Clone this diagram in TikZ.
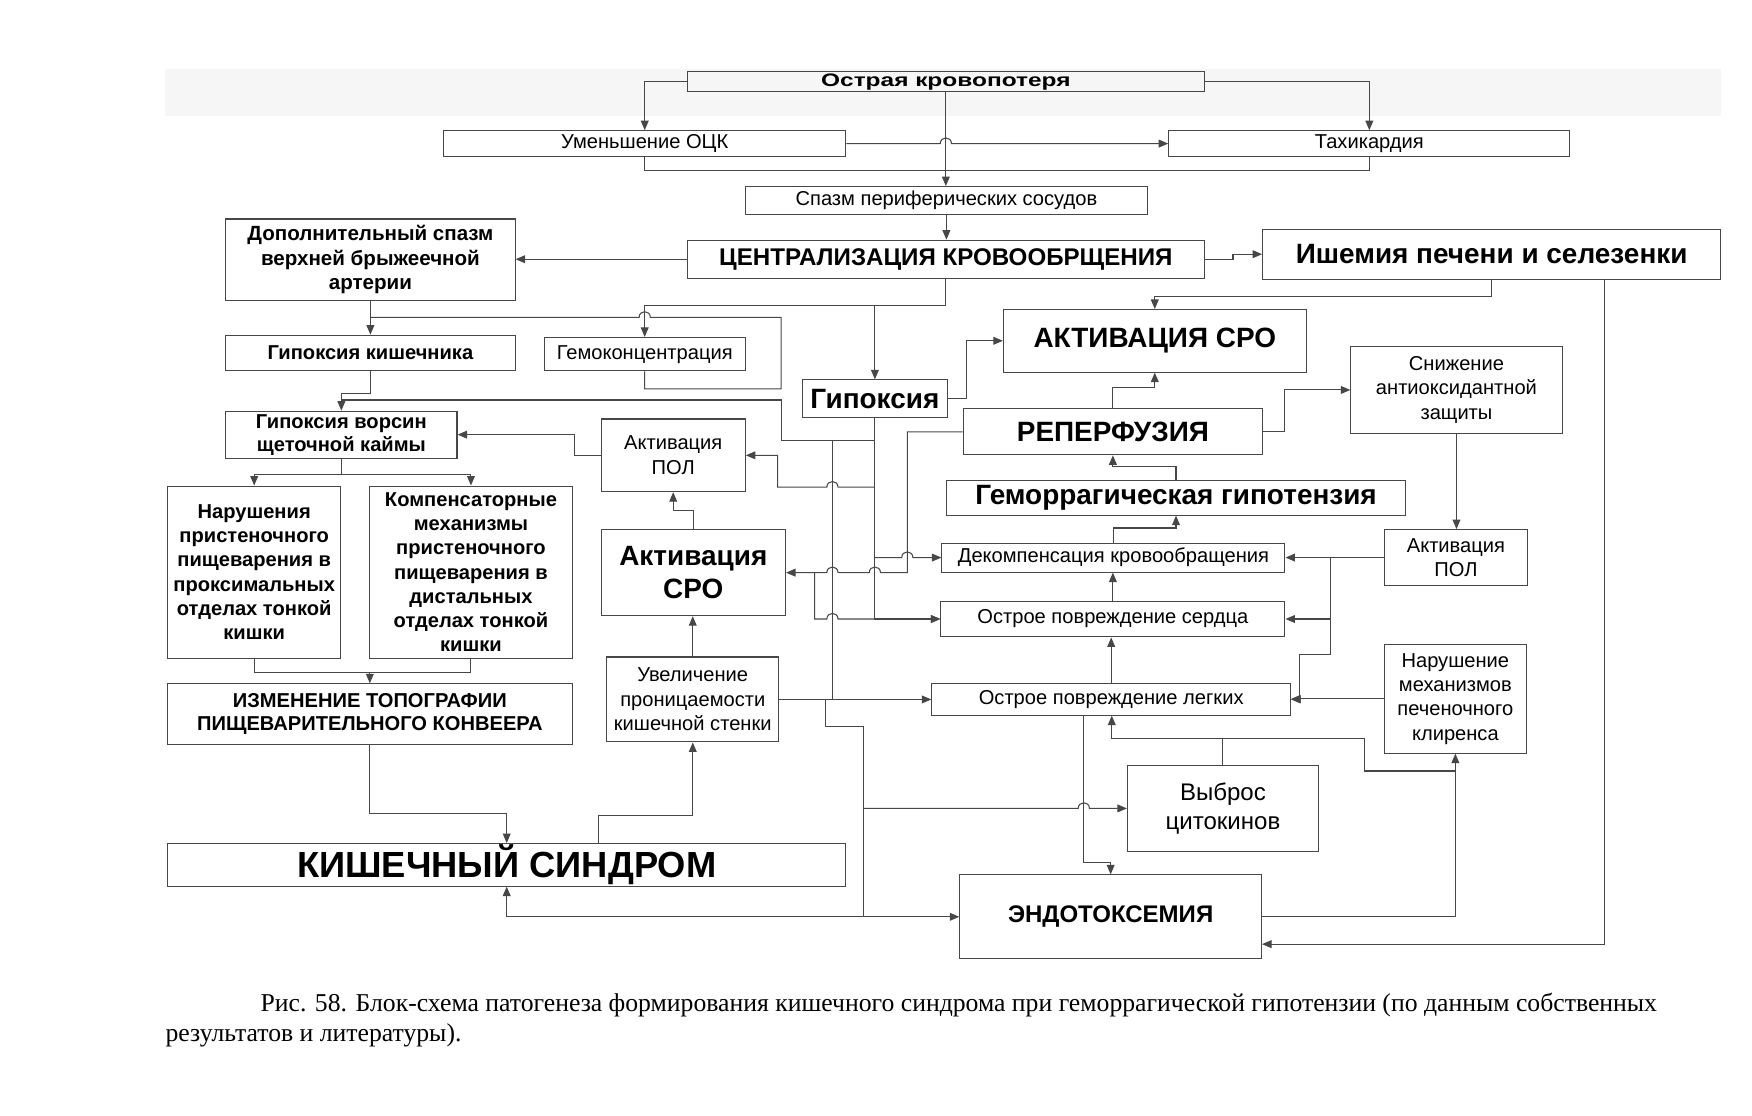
\documentclass[tikz,border=0pt]{standalone}
\usepackage{fontspec}
\setmainfont{Liberation Sans}
\newfontfamily\widefont[FakeStretch=1.35]{Liberation Sans}
\newfontfamily\capfont{Liberation Serif}
\usetikzlibrary{arrows.meta}
\newcommand{\fs}[2]{\fontsize{#1}{#2}\selectfont}
\newcommand{\mybox}[7]{\node[box, font=#6, minimum width={(#4-#2)*1pt}, minimum height={(#5-#3)*1pt}] (#1) at ({(#2+#4)/2},{(#3+#5)/2}) {#7};}
\tikzset{
  box/.style={draw=black!72, line width=0.95pt, inner sep=0pt, align=center, anchor=center},
  ln/.style={draw=black!72, line width=0.95pt},
  arr/.style={ln, -{Triangle[length=8.5pt,width=7pt]}},
  biarr/.style={ln, {Triangle[length=8.5pt,width=7pt]}-{Triangle[length=8.5pt,width=7pt]}},
  hopR/.style 2 args={insert path={-- ({#1-5},#2) .. controls ({#1-5},{#2-6.7}) and ({#1+5},{#2-6.7}) .. ({#1+5},#2)}},
  hopL/.style 2 args={insert path={-- ({#1+5},#2) .. controls ({#1+5},{#2-6.7}) and ({#1-5},{#2-6.7}) .. ({#1-5},#2)}},
}
\begin{document}
\begin{tikzpicture}[x=1pt,y=-1pt]
\useasboundingbox (0,0) rectangle (1568,998);
\fill[black!3.5] (148,62) rectangle (1540,104);

% boxes
\mybox{ost}{615}{64}{1078}{82}{\widefont\bfseries\fs{16.2}{18}}{Острая кровопотеря}
\mybox{umen}{397}{117}{757}{140}{\fs{18}{22}}{Уменьшение ОЦК}
\mybox{tah}{1046}{117}{1405}{140}{\fs{18}{22}}{Тахикардия}
\mybox{spazm}{667}{167}{1027}{192}{\fs{18}{22}}{Спазм периферических сосудов}
\mybox{centr}{615}{215}{1078}{249}{\bfseries\fs{21.6}{26}}{ЦЕНТРАЛИЗАЦИЯ КРОВООБРЩЕНИЯ}
\mybox{ish}{1130}{205}{1540}{250}{\bfseries\fs{25}{30}}{Ишемия печени и селезенки}
\mybox{dop}{202}{196}{461}{269}{\bfseries\fs{18.4}{22}}{Дополнительный спазм\\верхней брыжеечной\\артерии}
\mybox{gipk}{202}{300}{461}{332}{\bfseries\fs{18}{22}}{Гипоксия кишечника}
\mybox{gemo}{487}{302}{667}{332}{\fs{18}{22}}{Гемоконцентрация}
\mybox{gip}{718}{340}{848}{374}{\bfseries\fs{25}{30}}{Гипоксия}
\mybox{sro1}{898}{277}{1169}{333}{\bfseries\fs{25}{30}}{АКТИВАЦИЯ СРО}
\mybox{sniz}{1209}{310}{1398}{388}{\fs{18}{22}}{Снижение\\антиоксидантной\\защиты}
\mybox{rep}{862}{366}{1130}{407}{\bfseries\fs{25}{30}}{РЕПЕРФУЗИЯ}
\mybox{vors}{202}{368}{409}{410}{\bfseries\fs{18}{20.5}}{Гипоксия ворсин\\щеточной каймы}
\mybox{poll}{538}{375}{667}{440}{\fs{18}{22}}{Активация\\ПОЛ}
\mybox{gem}{847}{430}{1258}{461}{\bfseries\fs{25}{30}}{Геморрагическая гипотензия}
\mybox{narush}{150}{435}{305}{589}{\bfseries\fs{18}{21.6}}{Нарушения\\пристеночного\\пищеварения в\\проксимальных\\отделах тонкой\\кишки}
\mybox{komp}{331}{435}{512}{589}{\bfseries\fs{18}{21.7}}{Компенсаторные\\механизмы\\пристеночного\\пищеварения в\\дистальных\\отделах тонкой\\кишки}
\mybox{sro2}{538}{474}{703}{551}{\bfseries\fs{25}{29}}{Активация\\СРО}
\mybox{dek}{843}{486}{1150}{512}{\fs{18}{22}}{Декомпенсация кровообращения}
\mybox{pol2}{1239}{474}{1367}{524}{\fs{18}{21}}{Активация\\ПОЛ}
\mybox{serd}{842}{538}{1150}{570}{\fs{18}{22}}{Острое повреждение сердца}
\mybox{izm}{150}{612}{512}{666}{\bfseries\fs{18}{21}}{ИЗМЕНЕНИЕ ТОПОГРАФИИ\\ПИЩЕВАРИТЕЛЬНОГО КОНВЕЕРА}
\mybox{uvel}{543}{588}{697}{664}{\fs{18}{22}}{Увеличение\\проницаемости\\кишечной стенки}
\mybox{leg}{834}{612}{1155}{640}{\fs{18}{22}}{Острое повреждение легких}
\mybox{nar2}{1239}{577}{1366}{674}{\fs{18}{21.7}}{Нарушение\\механизмов\\печеночного\\клиренса}
\mybox{vyb}{1009}{685}{1180}{762}{\fs{21.5}{26}}{Выброс\\цитокинов}
\mybox{kish}{150}{755}{757}{793}{\bfseries\fs{32.5}{38}}{КИШЕЧНЫЙ СИНДРОМ}
\mybox{endo}{859}{783}{1129}{858}{\bfseries\fs{21.5}{26}}{ЭНДОТОКСЕМИЯ}

% connectors
\draw[arr] (ost.west) -| (umen.north);
\draw[arr] (ost.east) -| (tah.north);
\draw[arr] (ost.south) -- (ost.south |- spazm.north);
\draw[arr] (umen.east) [hopR={846.5}{128.5}] -- (tah.west);
\draw[ln] (umen.south) -- ++(0,12) -| (tah.south);
\draw[arr] (spazm.south) -- (spazm.south |- centr.north);
\draw[arr] (centr.west) -- (centr.west -| dop.east);
\draw[arr] (centr.east) -- ++(25,0) |- (ish.west);
\draw[arr] (centr.south) -- (centr.south |- 0,273) -| (gemo.north);
\draw[arr] (gip.north |- 0,273) -- (gip.north);
\draw[arr] (dop.south) -- (dop.south |- gipk.north);
\draw[ln] (dop.south |- 0,284) [hopR={577}{284}] -- (699,284) -- (699,348) -| (gemo.south);
\draw[arr] (gipk.south) -- ++(0,20) -| (vors.north);
\draw[ln] (gip.south) -- (783,394) -- (699,394) -- (699,358) -- (vors.north |- 0,358);
\draw[arr] (gip.south) |- (serd.west);
\draw[arr] (783,436) [hopL={745}{436}] -- (696,436) |- (poll.east);
\draw[arr] (783,499) [hopR={812}{499}] -- (dek.west);
\draw[ln] (745,394) -- (745,626);
\draw[arr] (uvel.east) -- (uvel.east -| leg.west);
\draw[ln] (739,626) -- (739,650) -- (773,650) -- (773,820.5);
\draw[arr] (773,723.5) [hopR={970}{723.5}] -- (vyb.west);
\draw[biarr] (kish.south) |- (endo.west);
\draw[arr] (izm.south) |- (kish.north |- 0,728) -- (kish.north);
\draw[arr] (kish.north -| 536,0) -- (536,730) -| (uvel.south);
\draw[arr] (uvel.north) -- (uvel.north |- sro2.south);
\draw[arr] (sro2.north) -- ++(0,-17) -| (poll.south);
\draw[arr] (poll.west) -- (514,407.5) |- (vors.east);
\draw[arr] (vors.south) -- ++(0,14) -| (narush.north);
\draw[arr] (vors.south) -- ++(0,14) -| (komp.north);
\draw[ln] (narush.south) -- ++(0,12) -| (komp.south);
\draw[arr] (izm.north |- 0,601) -- (izm.north);
\draw[arr] (rep.west) -- (812,386.5) -- (812,512.5) [hopL={783}{512.5}] [hopL={745}{512.5}] -- (sro2.east);
\draw[arr] (729,512.5) -- (729,554) [hopR={745}{554}] -- (serd.west);
\draw[arr] (gip.east) -- (865,357) |- (sro1.west);
\draw[arr] (rep.north) -- ++(0,-19) -| (sro1.south);
\draw[arr] (gem.north) -- ++(0,-12) -| (rep.south);
\draw[arr] (dek.north) -- ++(0,-13) -| (gem.south);
\draw[arr] (serd.north) -- (serd.north |- dek.south);
\draw[arr] (leg.north) -- (leg.north |- serd.south);
\draw[arr] (vyb.north) -- (vyb.north |- 0,661) -- (995,661) -- (leg.south -| 995,0);
\draw[ln] (vyb.north |- 0,661) -- (1221,661) -- (1221,690) -- (1302.5,690);
\draw[arr] (endo.east) -| (nar2.south);
\draw[arr] (ish.south) -- ++(0,15) -| (sro1.north);
\draw[arr] (ish.south -| 1436,0) -- (1436,845) -- (endo.east |- 0,845);
\draw[arr] (rep.east) -- (1150,386.5) |- (sniz.west);
\draw[arr] (sniz.south) -- (sniz.south |- pol2.north);
\draw[arr] (pol2.west) -- (pol2.west -| dek.east);
\draw[arr] (1191,499) |- (serd.east);
\draw[arr] (1191,554) -- (1191,586) -- (1163,586) |- (leg.east);
\draw[arr] (nar2.west) -- (nar2.west -| leg.east);
\draw[arr] (leg.south -| 970,0) -- (970,772) -| (endo.north);

% caption
\node[anchor=base west, inner sep=0pt, font=\capfont\fs{23}{27}] (cap1) at (233,905) {Рис. 58. Блок-схема патогенеза формирования кишечного синдрома при геморрагической гипотензии (по данным собственных};
\node[anchor=base west, inner sep=0pt, font=\capfont\fs{23}{27}] (cap2) at (148,932) {результатов и литературы).};
\end{tikzpicture}
\end{document}
